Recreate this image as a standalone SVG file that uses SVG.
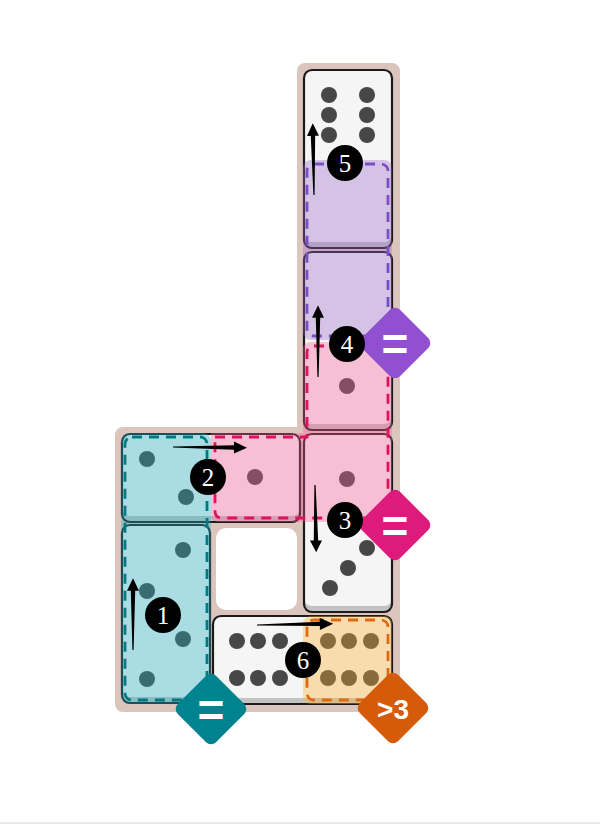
<svg xmlns="http://www.w3.org/2000/svg" width="600" height="831" viewBox="0 0 600 831">
<defs>
<style>
.bg{fill:#dbc5bd}
.shade{fill:#c2c2c2}
.body{fill:#f5f5f5}
.edge{fill:none;stroke:#1b1b1b;stroke-width:2.2}
.pip{fill:#474747}
.dash{fill:none;stroke-width:2.8;stroke-dasharray:10 7}
.num{fill:#000}
.numt{fill:#fff;font-family:"Liberation Serif",serif;font-size:25px;text-anchor:middle}
.badge{font-family:"Liberation Sans",Arial,sans-serif;font-weight:bold;fill:#fff;text-anchor:middle}
.arrow{fill:#000}
</style>
<path id="arw" d="M0,-0.6 L61,-2.2 L61,-6 L74,0 L61,6 L61,2.2 L0,0.6 Z"/>
</defs>
<rect width="600" height="831" fill="#fff"/>
<line x1="0" y1="823" x2="600" y2="823" stroke="#d4d4d4" stroke-width="1"/>

<g id="board">
<rect class="bg" x="297" y="63" width="103" height="380" rx="8"/>
<rect class="bg" x="115" y="427" width="285" height="285" rx="8"/>
<rect id="empty-cell" x="216" y="528" width="81" height="82" rx="10" fill="#fff"/>
</g>

<g id="domino-1">
<rect class="shade" x="304" y="70" width="88" height="178" rx="8"/>
<rect class="body" x="304" y="70" width="88" height="172" rx="8"/>
<rect class="edge" x="304" y="70" width="88" height="178" rx="8"/>
<circle class="pip" cx="329" cy="95" r="8"/><circle class="pip" cx="367" cy="95" r="8"/>
<circle class="pip" cx="329" cy="115" r="8"/><circle class="pip" cx="367" cy="115" r="8"/>
<circle class="pip" cx="329" cy="135" r="8"/><circle class="pip" cx="367" cy="135" r="8"/>
</g>
<g id="domino-2">
<rect class="shade" x="304" y="252" width="88" height="178" rx="8"/>
<rect class="body" x="304" y="252" width="88" height="172" rx="8"/>
<rect class="edge" x="304" y="252" width="88" height="178" rx="8"/>
<circle class="pip" cx="347" cy="386" r="8"/>
</g>
<g id="domino-3">
<rect class="shade" x="304" y="434" width="88" height="178" rx="8"/>
<rect class="body" x="304" y="434" width="88" height="172" rx="8"/>
<rect class="edge" x="304" y="434" width="88" height="178" rx="8"/>
<circle class="pip" cx="347" cy="479" r="8"/>
<circle class="pip" cx="367" cy="548" r="8"/><circle class="pip" cx="348" cy="568" r="8"/><circle class="pip" cx="330" cy="588" r="8"/>
</g>
<g id="domino-4">
<rect class="shade" x="122" y="434" width="178" height="88" rx="8"/>
<rect class="body" x="122" y="434" width="178" height="82" rx="8"/>
<rect class="edge" x="122" y="434" width="178" height="88" rx="8"/>
<circle class="pip" cx="147" cy="459" r="8"/><circle class="pip" cx="186" cy="497" r="8"/>
<circle class="pip" cx="255" cy="477" r="8"/>
</g>
<g id="domino-5">
<rect class="shade" x="122" y="525" width="88" height="178" rx="8"/>
<rect class="body" x="122" y="525" width="88" height="172" rx="8"/>
<rect class="edge" x="122" y="525" width="88" height="178" rx="8"/>
<circle class="pip" cx="183" cy="550" r="8"/><circle class="pip" cx="147" cy="591" r="8"/>
<circle class="pip" cx="183" cy="639" r="8"/><circle class="pip" cx="147" cy="679" r="8"/>
</g>
<g id="domino-6">
<rect class="shade" x="213" y="616" width="179" height="88" rx="8"/>
<rect class="body" x="213" y="616" width="179" height="82" rx="8"/>
<rect class="edge" x="213" y="616" width="179" height="88" rx="8"/>
<circle class="pip" cx="237" cy="641" r="8"/><circle class="pip" cx="258" cy="641" r="8"/><circle class="pip" cx="280" cy="641" r="8"/>
<circle class="pip" cx="237" cy="678" r="8"/><circle class="pip" cx="258" cy="678" r="8"/><circle class="pip" cx="280" cy="678" r="8"/>
<circle class="pip" cx="328" cy="641" r="8"/><circle class="pip" cx="349" cy="641" r="8"/><circle class="pip" cx="371" cy="641" r="8"/>
<circle class="pip" cx="328" cy="678" r="8"/><circle class="pip" cx="349" cy="678" r="8"/><circle class="pip" cx="371" cy="678" r="8"/>
</g>

<g id="region-teal">
<rect x="121" y="433" width="90" height="271" rx="8" fill="rgb(29,177,194)" fill-opacity="0.35"/>
<rect class="dash" x="125" y="437" width="82" height="263" rx="7" stroke="#007a80"/>
</g>
<g id="region-pink">
<path d="M211,433 H303 V350 Q303,342 311,342 H384 Q392,342 392,350 V514 Q392,522 384,522 H219 Q211,522 211,514 Z" fill="rgb(251,91,149)" fill-opacity="0.35"/>
<path class="dash" d="M215,437 H307 V353 Q307,346 314,346 H381 Q388,346 388,353 V511 Q388,518 381,518 H222 Q215,518 215,511 Z" stroke="#e0115f"/>
</g>
<g id="region-purple">
<rect x="303" y="160" width="89" height="180" rx="8" fill="rgb(154,103,200)" fill-opacity="0.35"/>
<rect class="dash" x="307" y="164" width="81" height="172" rx="7" stroke="#7a4fc4"/>
</g>
<g id="region-orange">
<rect x="303" y="616" width="89" height="88" rx="8" fill="rgb(255,174,43)" fill-opacity="0.35"/>
<rect class="dash" x="307" y="620" width="81" height="80" rx="7" stroke="#e06a10"/>
</g>

<g id="badge-purple">
<rect x="-27" y="-27" width="54" height="54" rx="7" fill="#9150cf" transform="translate(395,343) rotate(45)"/>
<text class="badge" x="395" y="360" font-size="46">=</text>
</g>
<g id="badge-pink">
<rect x="-27" y="-27" width="54" height="54" rx="7" fill="#de1a7c" transform="translate(395,525) rotate(45)"/>
<text class="badge" x="395" y="542" font-size="46">=</text>
</g>
<g id="badge-teal">
<rect x="-27" y="-27" width="54" height="54" rx="7" fill="#00838f" transform="translate(211,709) rotate(45)"/>
<text class="badge" x="211" y="726" font-size="46">=</text>
</g>
<g id="badge-orange">
<rect x="-27" y="-27" width="54" height="54" rx="7" fill="#d55a0a" transform="translate(393,708) rotate(45)"/>
<text class="badge" x="393" y="719" font-size="28">&gt;3</text>
</g>

<g id="connectors">
<use href="#arw" class="arrow" transform="translate(133,650) rotate(-90) scale(0.97,1)"/>
<use href="#arw" class="arrow" transform="translate(173,447) rotate(0.5)"/>
<use href="#arw" class="arrow" transform="translate(315,485) rotate(89) scale(0.91,1)"/>
<use href="#arw" class="arrow" transform="translate(318,377) rotate(-90) scale(0.97,1)"/>
<use href="#arw" class="arrow" transform="translate(314,195) rotate(-91) scale(0.97,1)"/>
<use href="#arw" class="arrow" transform="translate(257,625) rotate(-1) scale(1.03,1)"/>
</g>

<g id="step-1"><circle class="num" cx="163" cy="615" r="18"/><text class="numt" x="163" y="624">1</text></g>
<g id="step-2"><circle class="num" cx="208" cy="477" r="18"/><text class="numt" x="208" y="486">2</text></g>
<g id="step-3"><circle class="num" cx="345" cy="520" r="18"/><text class="numt" x="345" y="529">3</text></g>
<g id="step-4"><circle class="num" cx="347" cy="344" r="18"/><text class="numt" x="347" y="353">4</text></g>
<g id="step-5"><circle class="num" cx="345" cy="163" r="18"/><text class="numt" x="345" y="172">5</text></g>
<g id="step-6"><circle class="num" cx="303" cy="660" r="18"/><text class="numt" x="303" y="669">6</text></g>
</svg>
